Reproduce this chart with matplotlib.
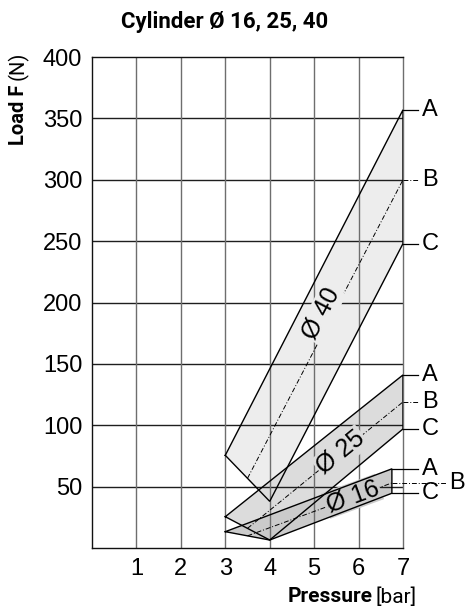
import numpy as np
import matplotlib
matplotlib.use('Agg')
import matplotlib.pyplot as plt

# cylinder bores and corner points of each load band
bores = ['Ø 40', 'Ø 25', 'Ø 16']
x_start = [3, 3, 3]
load_start = [75.5, 25.5, 13.3]
x_low = [4, 4, 4]
load_low = [38, 6.5, 6.5]
x_end = [7, 7, 6.75]
load_a = [357, 141, 64.5]
load_b = [300, 119, 53]
load_c = [248, 97, 44.6]
curve_names = ['A', 'B', 'C']

x_ticks = [1, 2, 3, 4, 5, 6, 7]
y_ticks = [50, 100, 150, 200, 250, 300, 350, 400]

fills = ['#ededed', '#dcdcdc', '#cbcbcb']
# where the bore name sits along the B line, and its sideways shift (px)
label_frac = [0.535, 0.6, 0.73]
label_shift = [10.5, 0, 1.0]

tick_font = 'Liberation Sans'
text_font = 'Roboto'

fig = plt.figure(figsize=(4.65, 6.12), dpi=100)
ax = fig.add_axes([92 / 465, 1 - 548 / 612, 311 / 465, 491 / 612])
ax.set_xlim(0, 7)
ax.set_ylim(0, 400)

# grid drawn by hand: dark horizontals, grey verticals
for y in y_ticks[:-1]:
    ax.axhline(y, color='#1e1e1e', lw=1.0, zorder=2)
for x in x_ticks[:-1]:
    ax.axvline(x, color='#6e6e6e', lw=1.0, zorder=2)
for side in ['left', 'bottom', 'top']:
    ax.spines[side].set_color('#111111')
    ax.spines[side].set_linewidth(1.0)
ax.spines['right'].set_color('#6e6e6e')
ax.spines['right'].set_linewidth(1.0)

ax.set_xticks(x_ticks)
ax.set_yticks(y_ticks)
ax.tick_params(length=0, pad=7, labelsize=17)
for lab in ax.get_xticklabels() + ax.get_yticklabels():
    lab.set_fontfamily(tick_font)

# bands
bands = []
for i in range(len(bores)):
    px = [x_start[i], x_end[i], x_end[i], x_low[i]]
    py = [load_start[i], load_a[i], load_c[i], load_low[i]]
    bands.append(ax.fill(px, py, color=fills[i], lw=0, zorder=1)[0])

for i in range(len(bores)):
    px = [x_start[i], x_end[i], x_end[i], x_low[i], x_start[i]]
    py = [load_start[i], load_a[i], load_c[i], load_low[i], load_start[i]]
    ax.plot(px, py, color='black', lw=1.0, zorder=4, solid_joinstyle='miter')

    # B: mean line from the middle of the left edge
    bx0 = (x_start[i] + x_low[i]) / 2
    by0 = (load_start[i] + load_low[i]) / 2
    ax.plot([bx0, x_end[i]], [by0, load_b[i]], color='black', lw=0.7,
            dashes=(5, 2, 1, 2), zorder=2.5)

    # leaders and A/B/C names
    for name, val in zip(curve_names, [load_a[i], load_b[i], load_c[i]]):
        lead_end = 7.33
        text_x = 7.42
        if name == 'B' and x_end[i] < 7:
            lead_end = 7.96
            text_x = 8.03
        style = dict(dashes=(5, 2, 1, 2), lw=0.7) if name == 'B' else dict(lw=0.9)
        ax.plot([x_end[i], lead_end], [val, val], color='black', clip_on=False,
                zorder=4, **style)
        ax.text(text_x, val, name, fontsize=17, family=tick_font, va='center',
                ha='left', clip_on=False)

    # bore name along the B line
    t = label_frac[i]
    lx = bx0 + t * (x_end[i] - bx0)
    ly = by0 + t * (load_b[i] - by0)
    p0 = ax.transData.transform((bx0, by0))
    p1 = ax.transData.transform((x_end[i], load_b[i]))
    ang = np.arctan2(p1[1] - p0[1], p1[0] - p0[0])
    pc = ax.transData.transform((lx, ly))
    pc = pc + label_shift[i] * np.array([-np.sin(ang), np.cos(ang)])
    lx, ly = ax.transData.inverted().transform(pc)
    txt = ax.text(lx, ly, bores[i], fontsize=18, family=tick_font,
                  rotation=np.degrees(ang), rotation_mode='anchor', ha='center',
                  va='center', zorder=3,
                  bbox=dict(facecolor=fills[i], edgecolor='none', pad=1.0))
    # keep the label's backing box inside its own band
    txt.get_bbox_patch().set_clip_path(bands[i])

fig.text(225 / 465, 1 - 22 / 612, 'Cylinder Ø 16, 25, 40', fontsize=16,
         fontweight='bold', family=text_font, ha='center', va='center')

# axis titles: bold word followed by regular unit
renderer = fig.canvas.get_renderer()
unit = fig.text(417 / 465, 1 - 597 / 612, '[bar]', fontsize=15, family=text_font,
                ha='right', va='center')
ext = unit.get_window_extent(renderer)
fig.text(ext.x0 / 465 - 0.008, 1 - 597 / 612, 'Pressure', fontsize=15,
         fontweight='bold', family=text_font, ha='right', va='center')

load = fig.text(18 / 465, 1 - 145 / 612, 'Load F', fontsize=14.5,
                fontweight='bold', family=text_font, rotation=90,
                ha='center', va='bottom')
ext = load.get_window_extent(renderer)
fig.text(18 / 465, ext.y1 / 612 + 0.008, '(N)', fontsize=14.5, family=text_font,
         rotation=90, ha='center', va='bottom')

fig.savefig('out.png', dpi=100)
